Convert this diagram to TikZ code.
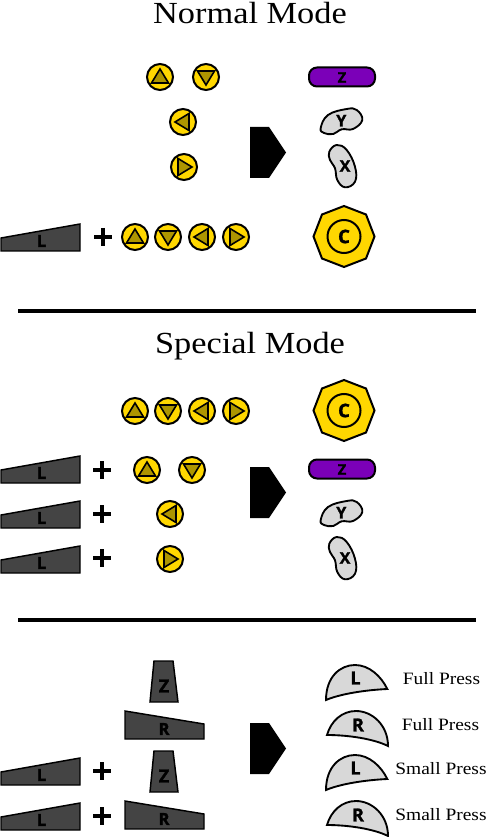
\documentclass[tikz,border=0pt]{standalone}
\usepackage{fontspec}
\setmainfont{Liberation Serif}
\newfontfamily\labfont[BoldFeatures={FakeBold=1.6}]{Open Sans}
\newfontfamily\serifwide[FakeStretch=1.12]{Liberation Serif}
\definecolor{btnyellow}{HTML}{FFD700}
\definecolor{btndark}{HTML}{AD9500}
\definecolor{trigdark}{HTML}{444444}
\definecolor{zpurple}{HTML}{7B00B8}
\definecolor{btngrey}{HTML}{D8D8D8}
\tikzset{
  x=0.75pt,y=-0.75pt,
  ttl/.style={font=\serifwide\fontsize{23}{26}\selectfont,inner sep=0pt,text=black,anchor=base},
  capt/.style={font=\serifwide\fontsize{13}{15}\selectfont,inner sep=0pt,text=black,anchor=base},
  lab/.style={font=\labfont\bfseries\fontsize{#1}{#1}\selectfont,inner sep=0pt,text=black},
  lab/.default=9,
  btn/.style={fill=btnyellow,draw=black,line width=1.5pt},
  tri/.style={fill=btndark,draw=black,line width=1.2pt,line join=miter},
  trig/.style={fill=trigdark,draw=black,line width=1.1pt,line join=miter},
  grey/.style={fill=btngrey,draw=black,line width=1.4pt},
  rule/.style={line width=2.8pt,draw=black},
  plusmark/.style={line width=3.7pt,draw=black},
  bu/.pic={\draw[btn] (0,0) circle[radius=13];\draw[tri] (0,-8) -- (8.5,6) -- (-8.5,6) -- cycle;},
  bd/.pic={\draw[btn] (0,0) circle[radius=13];\draw[tri] (0,8) -- (8.5,-6) -- (-8.5,-6) -- cycle;},
  bl/.pic={\draw[btn] (0,0) circle[radius=13];\draw[tri] (-8,0) -- (6,-8.5) -- (6,8.5) -- cycle;},
  br/.pic={\draw[btn] (0,0) circle[radius=13];\draw[tri] (8,0) -- (-6,-8.5) -- (-6,8.5) -- cycle;},
  trigl/.pic={\draw[trig] (1,238) -- (80,224) -- (80,251) -- (1,251) -- cycle;
    \node[lab=12.5] (-t) at (41.5,241) {L};},
  trigr/.pic={\draw[trig] (125,0) -- (204,13) -- (204,28) -- (125,28) -- cycle;
    \node[lab=12.5] (-t) at (164,18) {R};},
  trigz/.pic={\draw[trig] (154,0) -- (173,0) -- (178,41) -- (150,41) -- cycle;
    \node[lab=13.5] (-t) at (164,25) {Z};},
  plusm/.pic={\draw[plusmark] (-9,0) -- (9,0) (0,-9) -- (0,9);},
  arrowm/.pic={\fill[black] (250,0) -- (269,0) -- (286,25.5) -- (269,51) -- (250,51) -- cycle;},
  zbtn/.pic={\draw[fill=zpurple,line width=1.5pt,rounded corners=6pt] (-33,-9.5) rectangle (33,9.5);
    \node[lab=11] (-t) at (0,0.5) {Z};},
  ybtn/.pic={\draw[grey] plot[smooth cycle,tension=0.7] coordinates {(-20.3,7) (-13,-6) (5.7,-12) (15.7,-11) (21.3,-1) (12,8) (0.7,8.3) (-7.7,13) (-17,12)};
    \node[lab=12] (-t) at (0.3,-0.3) {Y};},
  xbtn/.pic={\draw[grey] plot[smooth cycle,tension=0.7] coordinates {(-7.3,-21) (2.7,-16) (11,0.7) (11,15.7) (1,21.3) (-6.7,14) (-9,2.3) (-14,-6) (-14.7,-14.3)};
    \node[lab=12] (-t) at (1,0) {X};},
  cbtn/.pic={\draw[fill=btnyellow,line width=1.5pt,line join=miter] (0,-30.5) -- (22,-22) -- (30.5,0) -- (22,22) -- (0,30.5) -- (-22,22) -- (-30.5,0) -- (-22,-22) -- cycle;
    \draw[line width=1.5pt] (0,0) circle[radius=16.5];
    \node[lab=14] (-t) at (0,0) {C};},
  shl/.pic={\draw[grey] (326,35) .. controls (326,12) and (340,0) .. (355,0) .. controls (369,0) and (381,11) .. (387.3,24) .. controls (365,25) and (340,29) .. (326,35) -- cycle;
    \node[lab=13.5] (-t) at (355.5,13) {L};},
  shr/.pic={\draw[grey] (327,24) .. controls (331,10) and (342,0) .. (356,0) .. controls (372,0) and (388,14) .. (388,35) .. controls (374,28) and (349,24) .. (327,24) -- cycle;
    \node[lab=13.5] (-t) at (358,14) {R};},
}
\begin{document}
\begin{tikzpicture}
\useasboundingbox (0,0) rectangle (487,837);
\node[ttl] (t1) at (250,24) {Normal Mode};
\pic (a1) at (160,77) {bu};
\pic (a2) at (206,77) {bd};
\pic (a3) at (183,122) {bl};
\pic (a4) at (184,167) {br};
\pic (l1) at (0,0) {trigl};
\pic (p1) at (103,237) {plusm};
\pic (a5) at (135,237) {bu};
\pic (a6) at (168,237) {bd};
\pic (a7) at (202,237) {bl};
\pic (a8) at (236,237) {br};
\pic (ar1) at (0,127) {arrowm};
\pic (z1) at (342,77) {zbtn};
\pic (y1) at (341,121) {ybtn};
\pic (x1) at (344,166) {xbtn};
\pic (c1) at (344,236.5) {cbtn};
\draw[rule] (18,311) -- (476,311);
\node[ttl] (t2) at (250,353) {Special Mode};
\pic (b5) at (135,411) {bu};
\pic (b6) at (168,411) {bd};
\pic (b7) at (202,411) {bl};
\pic (b8) at (236,411) {br};
\pic (c2) at (344,410.5) {cbtn};
\pic (l2) at (0,232) {trigl};
\pic (l3) at (0,277) {trigl};
\pic (l4) at (0,322) {trigl};
\pic (p2) at (102,470) {plusm};
\pic (p3) at (102,514) {plusm};
\pic (p4) at (102,558) {plusm};
\pic (b1) at (147,470) {bu};
\pic (b2) at (192,470) {bd};
\pic (b3) at (170,514) {bl};
\pic (b4) at (170,559) {br};
\pic (ar2) at (0,467) {arrowm};
\pic (z2) at (342,469) {zbtn};
\pic (y2) at (341,513) {ybtn};
\pic (x2) at (344,558) {xbtn};
\draw[rule] (18,620) -- (476,620);
\pic (z3) at (0,661) {trigz};
\pic (r1) at (0,711) {trigr};
\pic (l5) at (0,534) {trigl};
\pic (p5) at (102,771) {plusm};
\pic (z4) at (0,751) {trigz};
\pic (l6) at (0,579) {trigl};
\pic (p6) at (102,816) {plusm};
\pic (r2) at (0,801) {trigr};
\pic (ar3) at (0,723) {arrowm};
\pic (s1) at (0,665) {shl};
\pic (s2) at (0,711) {shr};
\pic (s3) at (0,755) {shl};
\pic (s4) at (0,801) {shr};
\node[capt] (c3) at (441.5,684) {Full Press};
\node[capt] (c4) at (440.5,730) {Full Press};
\node[capt] (c5) at (441,774) {Small Press};
\node[capt] (c6) at (441,820) {Small Press};
\end{tikzpicture}
\end{document}
